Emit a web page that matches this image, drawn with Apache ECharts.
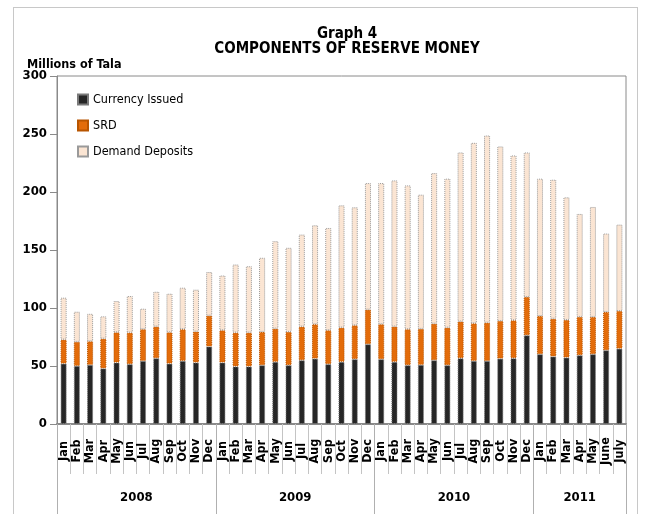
<!DOCTYPE html>
<html>
<head>
<meta charset="utf-8">
<script src="https://cdn.jsdelivr.net/npm/echarts@6/dist/echarts.min.js"></script>
<style>
  html, body { margin: 0; padding: 0; background: #fff; }
  #wrap { position: relative; width: 649px; height: 514px; overflow: hidden; }
  #frame { position: absolute; left: 13px; top: 7px; width: 623px; height: 540px; border: 1px solid #c8c8c8; }
  #chart { position: absolute; left: 0; top: 0; width: 649px; height: 514px; }
</style>
</head>
<body>
<div id="wrap">
  <div id="frame"></div>
  <div id="chart"></div>
</div>
<script>
  // months Jan 2008 .. July 2011
  var months = [
    'Jan','Feb','Mar','Apr','May','Jun','Jul','Aug','Sep','Oct','Nov','Dec',
    'Jan','Feb','Mar','Apr','May','Jun','Jul','Aug','Sep','Oct','Nov','Dec',
    'Jan','Feb','Mar','Apr','May','Jun','Jul','Aug','Sep','Oct','Nov','Dec',
    'Jan','Feb','Mar','Apr','May','June','July'
  ];
  var years = ['2008', '2009', '2010', '2011'];
  var yearLengths = [12, 12, 12, 7];

  var currencyIssued = [
    52.1, 50.1, 51.0, 47.9, 53.0, 51.6, 54.4, 56.7, 52.1, 54.4, 53.0, 66.8,
    53.0, 49.6, 49.6, 50.7, 53.6, 50.7, 55.0, 56.4, 51.6, 53.6, 55.9, 68.8,
    55.9, 53.6, 50.7, 51.0, 55.0, 50.7, 56.7, 54.4, 54.4, 56.4, 56.7, 76.5,
    60.2, 58.2, 57.3, 59.3, 60.2, 63.6, 65.0
  ];
  var srd = [
    20.7, 20.7, 20.3, 25.7, 26.0, 27.2, 27.3, 27.3, 26.9, 27.3, 26.7, 26.6,
    27.8, 29.2, 29.2, 28.7, 28.6, 28.7, 29.0, 29.6, 29.2, 29.5, 29.2, 29.8,
    30.1, 30.4, 31.0, 31.0, 31.5, 32.4, 31.6, 32.4, 33.0, 32.4, 32.7, 33.0,
    32.9, 32.6, 32.4, 33.0, 32.1, 33.0, 32.4
  ];
  var demandDeposits = [
    36.1, 26.0, 23.7, 19.2, 27.0, 31.5, 17.7, 30.0, 33.3, 35.8, 36.1, 37.6,
    47.2, 58.7, 57.2, 63.9, 75.4, 72.5, 79.3, 85.3, 88.2, 105.4, 101.7, 109.1,
    121.7, 126.0, 124.0, 115.7, 129.8, 128.4, 145.8, 155.6, 161.3, 150.5, 142.1, 124.6,
    118.4, 119.8, 105.7, 88.8, 94.8, 67.6, 74.5
  ];

  var font = "'Liberation Sans Narrow', 'DejaVu Sans Condensed', 'Arial Narrow', sans-serif";

  // year boundaries and label centres on a 0..n value scale
  var bounds = [0];
  var centres = [];
  yearLengths.forEach(function (len, i) {
    centres.push(bounds[i] + len / 2);
    bounds.push(bounds[i] + len);
  });

  function bar(name, data, color, border) {
    return {
      name: name,
      type: 'bar',
      stack: 'total',
      barWidth: '46%',
      data: data,
      itemStyle: { color: color, borderColor: border, borderWidth: 1, borderType: 'dotted' }
    };
  }

  var chart = echarts.init(document.getElementById('chart'));
  chart.setOption({
    animation: false,
    textStyle: { fontFamily: font },
    title: [
      { text: 'Graph 4', left: 342, textAlign: 'center', top: 22,
        textStyle: { fontFamily: font, fontSize: 15, fontWeight: 'bold', color: '#000' } },
      { text: 'COMPONENTS OF RESERVE MONEY', left: 342, textAlign: 'center', top: 37,
        textStyle: { fontFamily: font, fontSize: 15, fontWeight: 'bold', color: '#000' } },
      { text: 'Millions of Tala', left: 22, top: 53,
        textStyle: { fontFamily: font, fontSize: 12.5, fontWeight: 'bold', color: '#000' } }
    ],
    legend: {
      orient: 'vertical',
      left: 72,
      top: 88,
      icon: 'rect',
      itemWidth: 10,
      itemHeight: 10,
      itemGap: 13,
      textStyle: { fontFamily: font, fontSize: 12.5, color: '#000' },
      data: ['Currency Issued', 'SRD', 'Demand Deposits']
    },
    grid: {
      left: 57, right: 23, top: 76, bottom: 90,
      show: true, borderColor: '#8a8a8a', borderWidth: 1
    },
    xAxis: [
      {
        type: 'category',
        data: months,
        axisLine: { lineStyle: { color: '#8a8a8a', width: 2 } },
        axisTick: { show: true, interval: 0, length: 50, lineStyle: { color: '#c4c4c4' } },
        axisLabel: {
          interval: 0, rotate: 90, align: 'center', margin: 27,
          fontFamily: font, fontSize: 12.5, fontWeight: 'bold', color: '#000'
        }
      },
      {
        type: 'value',
        position: 'bottom',
        min: 0,
        max: months.length,
        axisLine: { show: false },
        splitLine: { show: false },
        axisTick: { show: true, customValues: bounds, length: 90, lineStyle: { color: '#b0b0b0' } },
        axisLabel: {
          customValues: centres, margin: 67,
          fontFamily: font, fontSize: 13, fontWeight: 'bold', color: '#000',
          formatter: function (v) { return years[centres.indexOf(v)]; }
        }
      }
    ],
    yAxis: {
      type: 'value',
      min: 0,
      max: 300,
      interval: 50,
      splitLine: { show: false },
      axisLine: { show: true, lineStyle: { color: '#8a8a8a' } },
      axisTick: { show: true, length: 7, lineStyle: { color: '#8a8a8a' } },
      axisLabel: { margin: 10, fontFamily: font, fontSize: 13, fontWeight: 'bold', color: '#000' }
    },
    series: [
      bar('Currency Issued', currencyIssued, '#262626', '#7a7a7a'),
      bar('SRD', srd, '#e36c0a', '#b85500'),
      bar('Demand Deposits', demandDeposits, '#fbe5d3', '#9a9a9a')
    ]
  });
</script>
</body>
</html>
